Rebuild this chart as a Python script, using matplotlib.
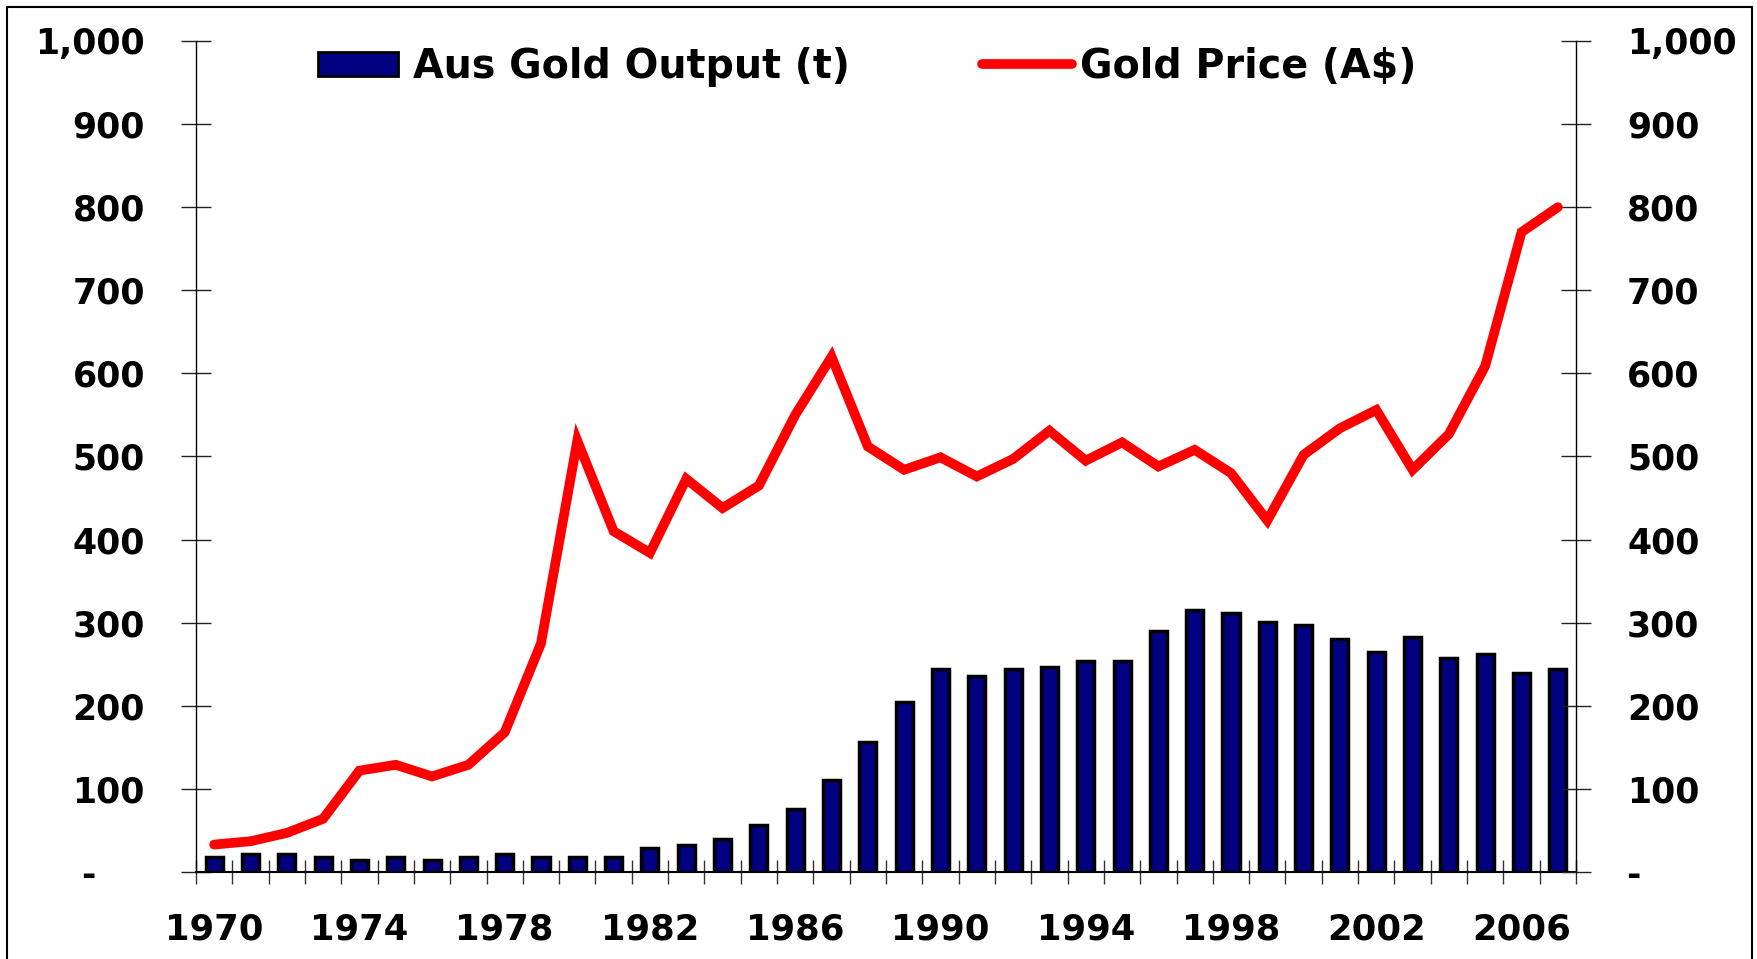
import matplotlib
matplotlib.use('Agg')
import matplotlib.pyplot as plt
import numpy as np
from matplotlib.patches import Rectangle
from matplotlib.lines import Line2D
from matplotlib.ticker import FuncFormatter, MultipleLocator, FixedLocator

plt.rcParams['font.family'] = ['DejaVu Sans']
plt.rcParams['font.weight'] = 'bold'

years = list(range(1970, 2008))
output_t = [18, 22, 22, 18, 15, 18, 15, 18, 22, 18, 18, 18,
            29, 33, 40, 57, 76, 111, 157, 204,
            244, 236, 244, 247, 254, 254, 290, 315, 312, 301,
            297, 280, 265, 283, 258, 262, 240, 244]
price = [33, 37, 47, 64, 122, 129, 115, 129, 168, 275, 519, 410, 384, 473,
         438, 465, 550, 620, 512, 484, 499, 476, 497, 531, 495, 517, 488,
         508, 480, 423, 502, 534, 556, 484, 527, 609, 770, 800]
label_years = [1970, 1974, 1978, 1982, 1986, 1990, 1994, 1998, 2002, 2006]
bar_label = 'Aus Gold Output (t)'
line_label = 'Gold Price (A$)'

W, H = 1758, 959
fig = plt.figure(figsize=(W / 100, H / 100), dpi=100)
ax = fig.add_axes([196 / W, 87 / H, (1576 - 196) / W, (918 - 87) / H])

x = np.arange(len(years))
ax.bar(x, output_t, width=0.47, color='#000080', edgecolor='black',
       linewidth=2.5, zorder=2)
ax.set_xlim(-0.5, len(years) - 0.5)
ax.set_ylim(0, 1000)

ax2 = ax.twinx()
ax2.plot(x, price, color='#ff0000', lw=7, solid_capstyle='round',
         solid_joinstyle='miter', zorder=3)
ax2.set_ylim(0, 1000)


def fmt(v, pos):
    return '-    ' if v == 0 else f'{int(round(v)):,}'


for a in (ax, ax2):
    a.yaxis.set_major_locator(MultipleLocator(100))
    a.yaxis.set_major_formatter(FuncFormatter(fmt))
    a.spines['top'].set_visible(False)
    for s in a.spines.values():
        s.set_linewidth(1.0)
        s.set_color('black')
ax.spines['right'].set_visible(False)
ax2.spines['left'].set_visible(False)
ax2.spines['bottom'].set_visible(False)
ax.spines['bottom'].set_linewidth(1.5)

ax.tick_params(axis='y', direction='inout', length=21.6, width=1,
               pad=26, labelsize=25, color='#222222')
ax2.tick_params(axis='y', direction='inout', length=21.6, width=1,
                pad=26, labelsize=25, color='#222222')

# x axis: labels at every 4th year, tick marks between categories
lab_idx = [years.index(y) for y in label_years]
ax.xaxis.set_major_locator(FixedLocator(lab_idx))
ax.set_xticklabels([str(y) for y in label_years])
ax.xaxis.set_minor_locator(FixedLocator(np.arange(len(years) + 1) - 0.5))
ax.tick_params(axis='x', which='major', length=0, pad=29.5, labelsize=25.5)
ax.tick_params(axis='x', which='minor', direction='inout', length=17.3,
               width=1, color='#333333')

prop = {'family': 'DejaVu Sans', 'weight': 'bold', 'size': 28.5}
h1 = Rectangle((0, 0), 1, 1, facecolor='#000080', edgecolor='black', lw=2)
fig.legend([h1], [bar_label], loc='center left',
           bbox_to_anchor=(318 / W, 892 / H), frameon=False, borderpad=0,
           borderaxespad=0, handlelength=2.02, handleheight=0.53,
           handletextpad=0.38, prop=prop)
h2 = Line2D([], [], color='#ff0000', lw=7, solid_capstyle='round')
fig.legend([h2], [line_label], loc='center left',
           bbox_to_anchor=(982 / W, 892 / H), frameon=False, borderpad=0,
           borderaxespad=0, handlelength=2.27, handletextpad=0.2, prop=prop)

# outer frame
fig.add_artist(Rectangle((7 / W, -0.02), (1752 - 7) / W, 1 - 6.7 / H + 0.02,
                         transform=fig.transFigure, fill=False,
                         edgecolor='black', lw=1.5, clip_on=False))

fig.savefig('out.png', dpi=100)
